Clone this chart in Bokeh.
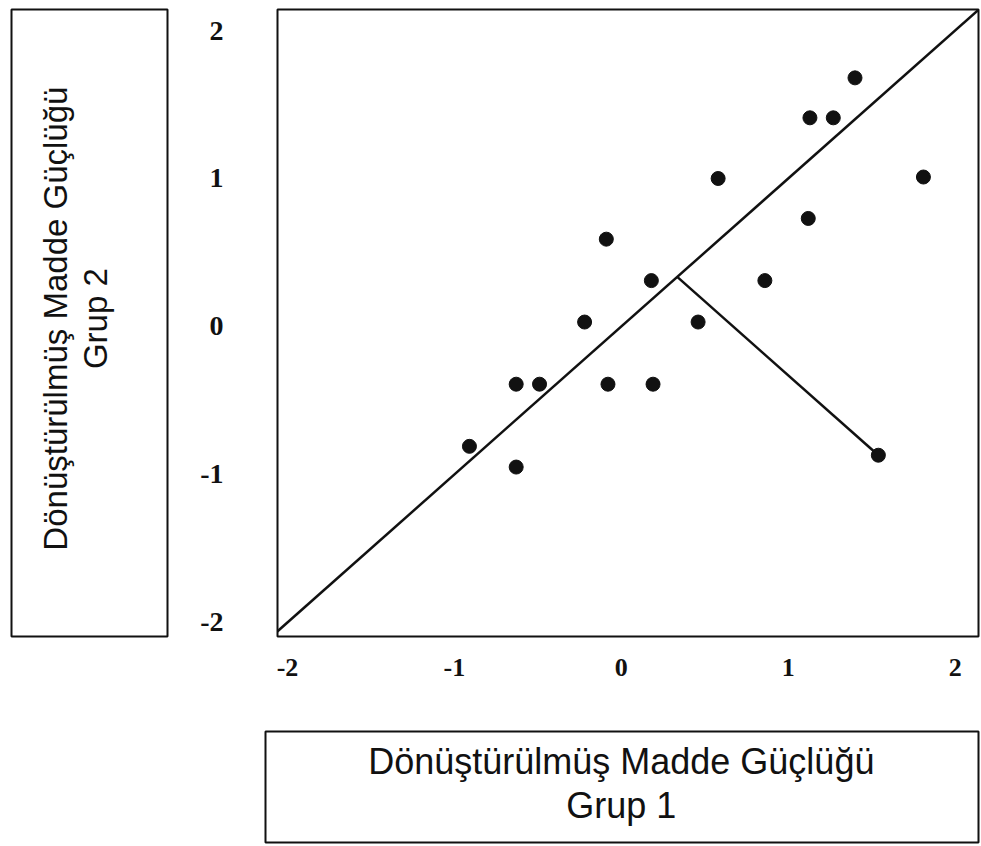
from bokeh.plotting import figure
from bokeh.layouts import column, row
from bokeh.models import FixedTicker, Range1d
from bokeh.core.properties import value
from bokeh.embed import file_html
from bokeh.resources import INLINE

# ---- data ----
grup1 = [-0.91, -0.63, -0.49, -0.63, -0.22, -0.09, -0.08, 0.18, 0.19, 0.46,
         0.58, 0.86, 1.13, 1.27, 1.40, 1.12, 1.81, 1.54]
grup2 = [-0.81, -0.39, -0.39, -0.95, 0.03, 0.59, -0.39, 0.31, -0.39, 0.03,
         1.00, 0.31, 1.41, 1.41, 1.68, 0.73, 1.01, -0.87]
outlier_index = 17
tick_values = [-2, -1, 0, 1, 2]
tick_labels = ["-2", "-1", "0", "1", "2"]
x_label_lines = ["Dönüştürülmüş Madde Güçlüğü", "Grup 1"]
y_label_lines = ["Dönüştürülmüş Madde Güçlüğü", "Grup 2"]

INK = "#111111"
SANS = "Liberation Sans"
SERIF = "Liberation Serif"

x_lo, x_hi = -2.06, 2.14
y_lo, y_hi = -2.095, 2.142

# ---- y-axis label box ----
yfig = figure(width=178, height=700, title=None, toolbar_location=None,
              output_backend="svg", x_range=Range1d(0, 1), y_range=Range1d(0, 1),
              x_axis_location=None, y_axis_location=None,
              min_border_left=11, min_border_right=11, min_border_top=3,
              min_border_bottom=58)
yfig.grid.grid_line_color = None
yfig.outline_line_color = INK
yfig.outline_line_width = 2
yfig.text(x=[0.28, 0.54], y=[0.507, 0.507], text=y_label_lines, angle=1.5708,
          text_align="center", text_baseline="alphabetic",
          text_font=value(SANS), text_font_size="33px", text_color=INK)

# ---- main scatter ----
p = figure(width=802, height=700, title=None, toolbar_location=None,
           output_backend="svg", x_range=Range1d(x_lo, x_hi),
           y_range=Range1d(y_lo, y_hi),
           min_border_left=99, min_border_right=2, min_border_top=9,
           min_border_bottom=64)
p.grid.grid_line_color = None
p.outline_line_color = INK
p.outline_line_width = 2
for ax in (p.xaxis, p.yaxis):
    ax.ticker = FixedTicker(ticks=tick_values)
    ax.major_label_overrides = dict(zip(tick_values, tick_labels))
    ax.axis_line_color = None
    ax.major_tick_line_color = None
    ax.minor_tick_line_color = None
    ax.major_label_text_font = SERIF
    ax.major_label_text_font_style = "bold"
    ax.major_label_text_color = INK
p.xaxis.major_label_text_font_size = "26px"
p.yaxis.major_label_text_font_size = "28px"
p.xaxis.major_label_standoff = 16
p.yaxis.major_label_standoff = 48

# identity line y = x
lo = min(x_lo, y_lo)
hi = max(x_hi, y_hi)
p.line([lo, hi], [lo, hi], line_color=INK, line_width=2.5)

# perpendicular from the outlying item to the identity line
ox, oy = grup1[outlier_index], grup2[outlier_index]
foot = (ox + oy) / 2.0
p.line([foot, ox], [foot, oy], line_color=INK, line_width=2.5)

p.scatter(grup1, grup2, size=14, fill_color=INK, line_color=INK)

# ---- x-axis label box ----
xfig = figure(width=980, height=145, title=None, toolbar_location=None,
              output_backend="svg", x_range=Range1d(0, 1), y_range=Range1d(0, 1),
              x_axis_location=None, y_axis_location=None,
              min_border_left=265, min_border_right=2, min_border_top=31,
              min_border_bottom=3)
xfig.grid.grid_line_color = None
xfig.outline_line_color = INK
xfig.outline_line_width = 2
xfig.text(x=[0.499, 0.499], y=[0.73, 0.333], text=x_label_lines,
          text_align="center", text_baseline="alphabetic",
          text_font=value(SANS), text_font_size="36px", text_color=INK)

layout = column(row(yfig, p), xfig)
open("out.html", "w").write(file_html(layout, INLINE))
